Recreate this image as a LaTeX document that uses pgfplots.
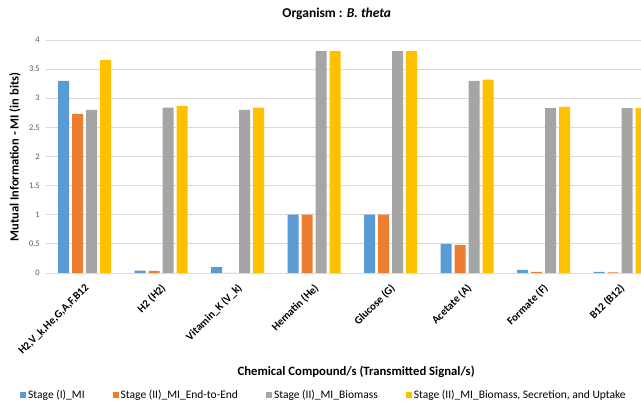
\documentclass[border=0pt]{standalone}
\usepackage{fontspec}
\setmainfont{Carlito}
\usepackage{pgfplots}
\pgfplotsset{compat=1.18}
\definecolor{cBlue}{HTML}{5B9BD5}
\definecolor{cOrange}{HTML}{ED7D31}
\definecolor{cGray}{HTML}{A5A5A5}
\definecolor{cYellow}{HTML}{FFC000}
\definecolor{gridc}{HTML}{D9D9D9}
\definecolor{tickc}{HTML}{595959}
\begin{document}
\begin{tikzpicture}
\useasboundingbox (0,0) rectangle (641pt,404pt);
\begin{axis}[
  at={(46.3pt,131pt)}, anchor=south west,
  scale only axis, width=594.7pt, height=233pt,
  ybar=3pt, bar width=11pt,
  xmin=-0.5, xmax=7.274, ymin=0, ymax=4,
  xtick={0,...,7},
  xticklabels={{H2,V\_k,He,G,A,F,B12},{H2 (H2)},{Vitamin\_K (V\_k)},{Hematin (He)},{Glucose (G)},{Acetate (A)},{Formate (F)},{B12 (B12)}},
  ytick={0,0.5,...,4},
  yticklabels={0,0.5,1,1.5,2,2.5,3,3.5,4},
  major tick length=0pt,
  axis line style={draw=none},
  ymajorgrids, grid style={draw=gridc, line width=0.8pt},
  /pgf/number format/assume math mode=true,
  yticklabel style={font=\fontsize{8.5}{10}\selectfont, text=tickc, xshift=-3pt},
  xticklabel style={font=\fontsize{11}{13}\selectfont\bfseries, rotate=45, anchor=north east, xshift=-4pt, yshift=-3pt},
  title={Organism : \textit{B. theta}},
  title style={at={(axis description cs:0.4883,1.0858)}, anchor=center, font=\fontsize{13.5}{16}\selectfont\bfseries},
  xlabel={Chemical Compound/s (Transmitted Signal/s)},
  every axis x label/.style={at={(axis description cs:0.521,-0.425)}, anchor=center, font=\fontsize{12.7}{15}\selectfont\bfseries},
  ylabel={Mutual Information - MI (in bits)},
  every axis y label/.style={at={(axis description cs:-0.0526,0.498)}, rotate=90, anchor=center, font=\fontsize{12.5}{15}\selectfont\bfseries},
  legend columns=4,
  legend image code/.code={\fill[#1] (0pt,-3pt) rectangle (6pt,3pt);},
  legend style={at={(axis description cs:-0.0442,-0.5236)}, anchor=west, draw=none, fill=none, inner sep=0pt,
    font=\fontsize{11.5}{14}\selectfont,
    /tikz/every even column/.append style={column sep=26pt},
    nodes={inner sep=2pt}},
]
\addplot[fill=cBlue, draw=none] coordinates {(0,3.30) (1,0.04) (2,0.10) (3,1.00) (4,1.00) (5,0.50) (6,0.055) (7,0.02)};
\addplot[fill=cOrange, draw=none] coordinates {(0,2.73) (1,0.035) (2,0.0) (3,1.00) (4,1.00) (5,0.48) (6,0.02) (7,0.01)};
\addplot[fill=cGray, draw=none] coordinates {(0,2.80) (1,2.84) (2,2.80) (3,3.81) (4,3.81) (5,3.30) (6,2.83) (7,2.83)};
\addplot[fill=cYellow, draw=none] coordinates {(0,3.66) (1,2.87) (2,2.84) (3,3.81) (4,3.81) (5,3.32) (6,2.85) (7,2.83)};
\legend{Stage (I)\_MI, Stage (II)\_MI\_End-to-End, Stage (II)\_MI\_Biomass, {Stage (II)\_MI\_Biomass, Secretion, and Uptake}}
\end{axis}
\end{tikzpicture}
\end{document}
